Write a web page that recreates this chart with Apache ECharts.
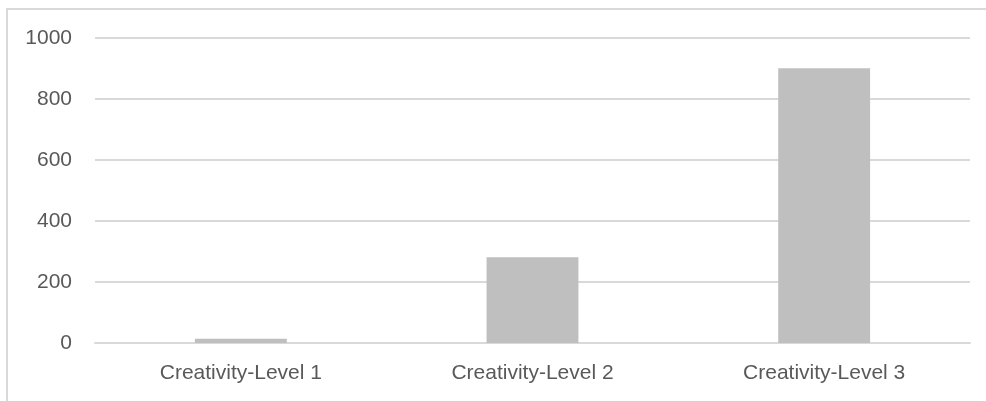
<!DOCTYPE html>
<html>
<head>
<meta charset="utf-8">
<script src="https://cdn.jsdelivr.net/npm/echarts@6/dist/echarts.min.js"></script>
<style>
  html, body { margin: 0; padding: 0; background: #fff; }
  #chart { width: 986px; height: 401px; }
</style>
</head>
<body>
<div id="chart"></div>
<script>
// data
const categories = ["Creativity-Level 1", "Creativity-Level 2", "Creativity-Level 3"];
const values = [14, 281, 901];
const yTicks = [0, 200, 400, 600, 800, 1000];

const chartDom = document.getElementById("chart");
const myChart = echarts.init(chartDom, null, { renderer: "canvas" });

const textColor = "#595959";
const lineColor = "#d9d9d9";
const font = "Liberation Sans";

const options = {
  animation: false,
  // frame around the chart area (only top and left show in the crop)
  graphic: [
    {
      type: "rect",
      shape: { x: 7, y: 9, width: 1200, height: 800 },
      style: { fill: "none", stroke: lineColor, lineWidth: 2 },
      silent: true,
    },
  ],
  grid: {
    left: 95,
    right: 16,
    top: 38,
    bottom: 58,
  },
  xAxis: {
    type: "category",
    data: categories,
    axisLine: { show: true, lineStyle: { color: lineColor, width: 2 } },
    axisTick: { show: false },
    axisLabel: {
      color: textColor,
      fontFamily: font,
      fontSize: 21,
      margin: 20,
    },
  },
  yAxis: {
    type: "value",
    min: yTicks[0],
    max: yTicks[yTicks.length - 1],
    interval: 200,
    axisLine: { show: false },
    axisTick: { show: false },
    splitLine: { show: true, lineStyle: { color: lineColor, width: 2 } },
    axisLabel: {
      color: textColor,
      fontFamily: font,
      fontSize: 21,
      margin: 23,
      formatter: (v) => String(v),
    },
  },
  series: [
    {
      type: "bar",
      data: values,
      barWidth: "31.5%",
      itemStyle: { color: "#bfbfbf" },
    },
  ],
};

myChart.setOption(options);
</script>
</body>
</html>
